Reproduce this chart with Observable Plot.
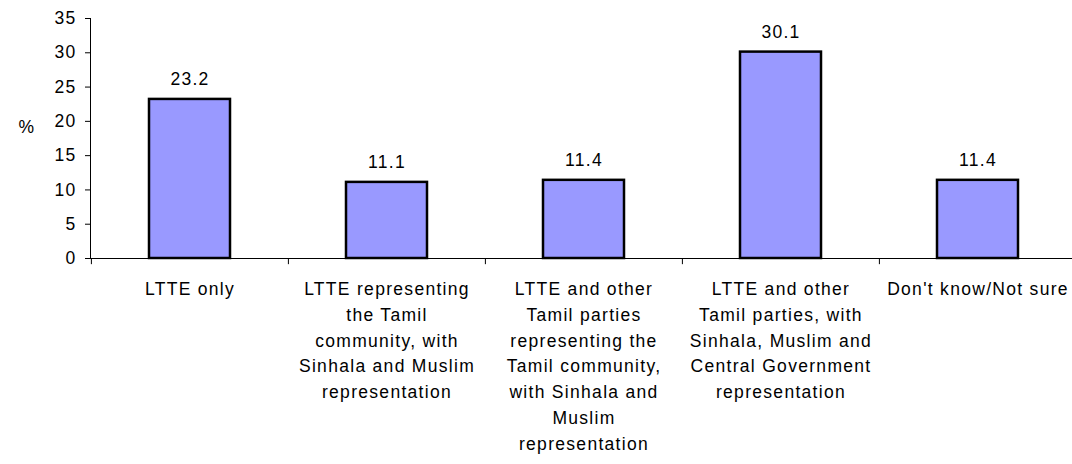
<!DOCTYPE html>
<html>
<head>
<meta charset="utf-8">
<script src="https://cdn.jsdelivr.net/npm/d3@7"></script>
<script src="https://cdn.jsdelivr.net/npm/@observablehq/plot@0.6"></script>
<style>
  html, body { margin: 0; padding: 0; background: #fff; }
  svg { display: block; }
  svg text { letter-spacing: 1.3px; }
</style>
</head>
<body>
<div id="chart"></div>
<script>
const categories = [
  "LTTE only",
  "LTTE representing\nthe Tamil\ncommunity, with\nSinhala and Muslim\nrepresentation",
  "LTTE and other\nTamil parties\nrepresenting the\nTamil community,\nwith Sinhala and\nMuslim\nrepresentation",
  "LTTE and other\nTamil parties, with\nSinhala, Muslim and\nCentral Government\nrepresentation",
  "Don't know/Not sure"
];
const values = [23.2, 11.1, 11.4, 30.1, 11.4];
const yTicks = [0, 5, 10, 15, 20, 25, 30, 35];

const data = categories.map((c, i) => ({category: c, value: values[i]}));

const chart = Plot.plot({
  width: 1072,
  height: 464,
  marginLeft: 90,
  marginRight: 0,
  marginTop: 18,
  marginBottom: 206,
  style: {fontFamily: "'Liberation Sans', Arial, sans-serif", fontSize: "17.5px", color: "#000", background: "#fff"},
  x: {domain: categories, range: [90, 1076], paddingInner: 0.59, paddingOuter: 0.295, label: null},
  y: {domain: [0, 35], label: null},
  marks: [
    Plot.barY(data, {x: "category", y: "value", fill: "#9999FF", stroke: "#000", strokeWidth: 2.5}),
    Plot.text(data, {x: "category", y: "value", text: d => d.value.toFixed(1), dy: -20, fill: "#000", fontSize: 17.5}),
    Plot.axisY({ticks: yTicks, tickSize: 5, tickPadding: 9, stroke: "#000", fill: "#000", fontSize: 17.5, label: null}),
    Plot.frame({anchor: "left", stroke: "#000"}),
    Plot.ruleY([0], {stroke: "#000"}),
    Plot.ruleX(data, {x: "category", y1: 0, y2: -0.9, dx: -98.6, stroke: "#000", strokeWidth: 1}),
    Plot.axisX({tickSize: 0, tickPadding: 18.5, lineHeight: 1.47, fill: "#000", fontSize: 17.5, label: null}),
    Plot.text(["%"], {frameAnchor: "left", dx: -72, dy: -11, fill: "#000", fontSize: 17.5})
  ]
});
document.getElementById("chart").append(chart);
</script>
</body>
</html>
